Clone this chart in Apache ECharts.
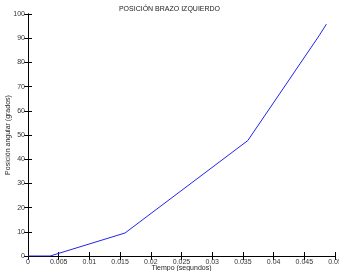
<!DOCTYPE html>
<html>
<head>
<meta charset="utf-8">
<script src="https://cdn.jsdelivr.net/npm/echarts@6/dist/echarts.min.js"></script>
<style>html,body{margin:0;padding:0;background:#fff;}#c{width:339px;height:271px;}</style>
</head>
<body>
<div id="c"></div>
<script>
var titleText = 'POSICIÓN BRAZO IZQUIERDO';
var xName = 'Tiempo (segundos)';
var yName = 'Posición angular (grados)';
var timeValues = [0, 0.0036, 0.0158, 0.0358, 0.0474, 0.0486];
var angleValues = [0, 0, 9.5, 47.7, 91, 95.8];
var xTicks = [0, 0.005, 0.01, 0.015, 0.02, 0.025, 0.03, 0.035, 0.04, 0.045, 0.05];
var yTicks = [0, 10, 20, 30, 40, 50, 60, 70, 80, 90, 100];

var FONT = 'Liberation Sans, Arial, sans-serif';
var chart = echarts.init(document.getElementById('c'), null, {renderer: 'canvas'});
var axLine = {show: true, lineStyle: {color: '#000', width: 1}};
var tick = {show: true, inside: true, length: 4, lineStyle: {color: '#000', width: 1}};
var lbl = {fontSize: 7, color: '#333', fontFamily: FONT};
function fmt(v) { return String(parseFloat(Number(v).toFixed(4))); }
var series = [{
  type: 'line',
  data: timeValues.map(function (t, i) { return [t, angleValues[i]]; }),
  showSymbol: false,
  symbol: 'none',
  lineStyle: {color: '#2323ee', width: 1},
  animation: false
}];
chart.setOption({
  animation: false,
  backgroundColor: '#fff',
  title: {text: titleText, left: 'center', top: 1, textStyle: {fontSize: 7, fontWeight: 'normal', color: '#222', fontFamily: FONT}},
  grid: {left: 28, right: 4, top: 14, bottom: 15, containLabel: false, outerBoundsMode: 'none'},
  xAxis: [{
    type: 'value', min: xTicks[0], max: xTicks[xTicks.length - 1], interval: xTicks[1] - xTicks[0],
    axisLine: axLine, axisTick: tick, splitLine: {show: false},
    axisLabel: Object.assign({margin: 3, formatter: fmt, hideOverlap: false}, lbl),
    name: xName, nameLocation: 'middle', nameGap: 9, nameMoveOverlap: false,
    nameTextStyle: {fontSize: 7, color: '#222', fontFamily: FONT}
  }, {
    type: 'value', position: 'top', min: xTicks[0], max: xTicks[xTicks.length - 1], interval: xTicks[1] - xTicks[0],
    axisLine: axLine, axisTick: tick, splitLine: {show: false}, axisLabel: {show: false}
  }],
  yAxis: [{
    type: 'value', min: yTicks[0], max: yTicks[yTicks.length - 1], interval: yTicks[1] - yTicks[0],
    axisLine: axLine, axisTick: tick, splitLine: {show: false},
    axisLabel: Object.assign({margin: 3}, lbl),
    name: yName, nameLocation: 'middle', nameGap: 16, nameRotate: 90, nameMoveOverlap: false,
    nameTextStyle: {fontSize: 7, color: '#222', fontFamily: FONT}
  }, {
    type: 'value', position: 'right', min: yTicks[0], max: yTicks[yTicks.length - 1], interval: yTicks[1] - yTicks[0],
    axisLine: axLine, axisTick: tick, splitLine: {show: false}, axisLabel: {show: false}
  }],
  series: series
});
</script>
</body>
</html>
